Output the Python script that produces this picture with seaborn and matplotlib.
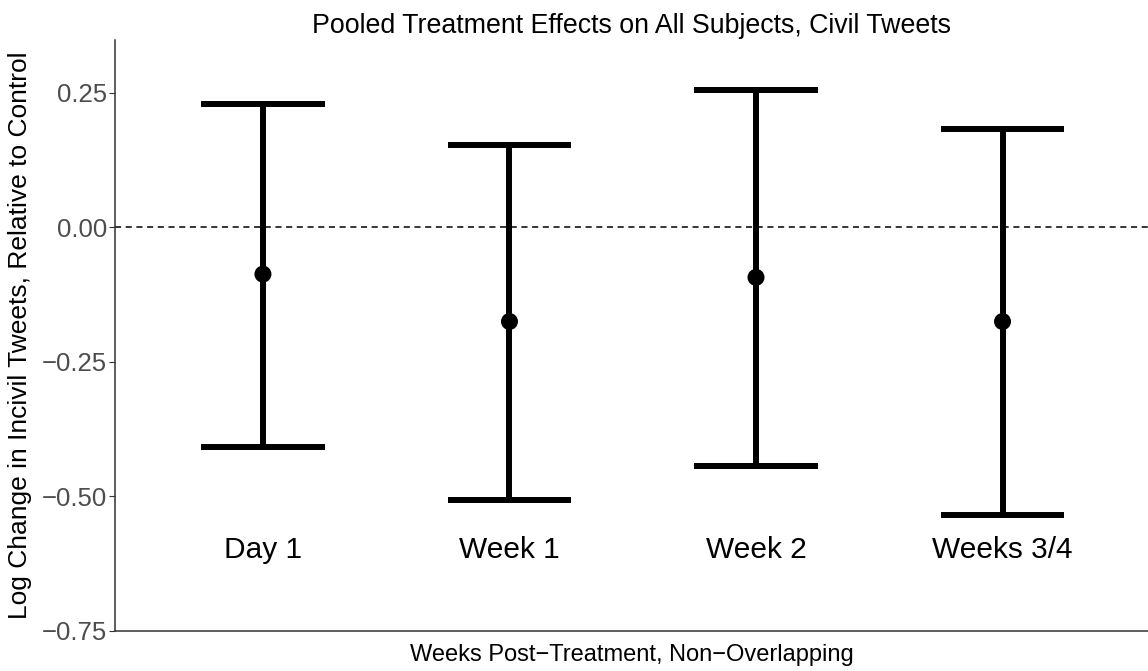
import matplotlib
matplotlib.use("Agg")
import matplotlib.pyplot as plt
import seaborn as sns
import pandas as pd

# Pooled treatment effect estimates with confidence bounds
periods = ["Day 1", "Week 1", "Week 2", "Weeks 3/4"]
estimates = [-0.087, -0.175, -0.093, -0.175]
upper = [0.230, 0.152, 0.255, 0.182]
lower = [-0.409, -0.506, -0.443, -0.535]

df = pd.DataFrame({
    "pos": range(1, len(periods) + 1),
    "period": periods,
    "est": estimates,
    "hi": upper,
    "lo": lower,
})

sns.set_theme(style="white")
plt.rcParams["font.family"] = ["Liberation Sans", "DejaVu Sans"]
plt.rcParams["text.color"] = "black"
plt.rcParams["axes.labelcolor"] = "black"

fig = plt.figure(figsize=(11.48, 6.71), dpi=100)
ax = fig.add_axes([115 / 1148, 40 / 671, 1 - 115 / 1148, 591 / 671])

# reference line at zero
ax.axhline(0, color="black", linestyle=(0, (4, 3)), linewidth=1.1, zorder=1)

# vertical interval lines and caps
ax.vlines(df["pos"], df["lo"], df["hi"], color="black", linewidth=4.3, zorder=2)
ax.hlines(df["hi"], df["pos"] - 0.25, df["pos"] + 0.25, color="black", linewidth=4.3, zorder=2)
ax.hlines(df["lo"], df["pos"] - 0.25, df["pos"] + 0.25, color="black", linewidth=4.3, zorder=2)

# point estimates
sns.scatterplot(data=df, x="pos", y="est", color="black", s=150, edgecolor="none",
                zorder=3, ax=ax, legend=False)

# period labels inside the panel
for p, name in zip(df["pos"], df["period"]):
    ax.text(p, -0.60, name, ha="center", va="center", fontsize=21.5, color="black")

ax.set_xlim(0.40, 4.59)
ax.set_ylim(-0.75, 0.348)
ax.set_yticks([-0.75, -0.50, -0.25, 0.00, 0.25])
ax.set_yticklabels(["\u22120.75", "\u22120.50", "\u22120.25", "0.00", "0.25"])
ax.set_xticks([])

ax.tick_params(axis="y", which="both", left=True, length=4, width=0.8,
               color="#333333", labelsize=18.5, labelcolor="#4D4D4D", pad=1.5)

for side in ["top", "right"]:
    ax.spines[side].set_visible(False)
for side in ["left", "bottom"]:
    ax.spines[side].set_visible(True)
    ax.spines[side].set_color("#333333")
    ax.spines[side].set_linewidth(1.1)

ax.set_xlabel("Weeks Post\u2212Treatment, Non\u2212Overlapping", fontsize=17, labelpad=9)
ax.set_ylabel("Log Change in Incivil Tweets, Relative to Control", fontsize=19, labelpad=7)
ax.set_title("Pooled Treatment Effects on All Subjects, Civil Tweets", fontsize=19.3, pad=5)

fig.savefig("out.png", dpi=100, facecolor="white")
